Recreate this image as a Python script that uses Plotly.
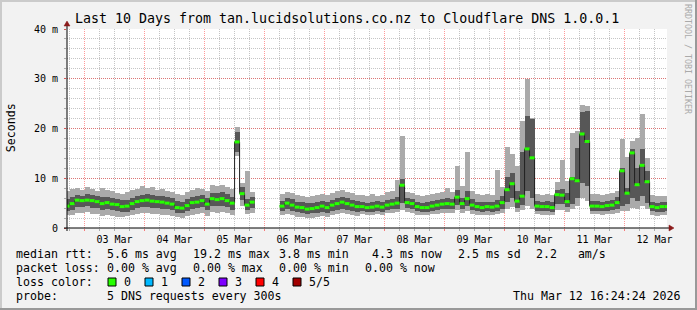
import pandas as pd
import plotly.graph_objects as go

N = None
# ---- data: 2-hour bins starting 2026-03-02 16:00 (ms) ----
median_ms = [4.4, 4.9, 5.6, 5.5, 5.6, 5.5, 5.3, 4.9, 5.1, 4.8,
             4.7, 4.3, 4.4, 4.9, 5.3, 5.5, 5.6, 5.4, 5.3, 5.2,
             5.0, 4.8, 4.1, 4.0, 4.5, 5.1, 5.2, 5.5, 4.8, 5.9,
             5.7, 5.9, 5.5, 5.0, 17.3, 6.9, 4.6, 5.2, N, N,
             N, N, N, 4.4, 5.0, 4.6, 4.2, 4.1, 3.8, 3.9,
             4.1, 4.4, 4.1, 4.6, 4.9, 5.2, 4.9, 4.6, 4.3, 4.3,
             4.1, 4.2, 4.4, 4.2, 4.6, 4.8, 5.0, 8.6, 5.1, 4.9,
             4.3, 4.1, 4.1, 4.4, 4.6, 4.8, 4.9, 4.8, 6.2, 4.9,
             5.9, 4.6, 4.3, 4.1, 4.3, 4.2, 4.4, 5.1, 7.7, 8.9,
             5.4, 6.4, 15.9, 14.1, 4.4, 4.3, 4.3, 4.1, 6.7, 6.6,
             5.3, 9.9, 9.5, 18.9, 17.4, 4.4, 4.4, 4.3, 4.5, 4.6,
             5.1, 11.5, 7.0, 15.1, 8.7, 12.6, 9.3, 4.3, 4.1, 4.3,
             4.3]
inner_lo_ms = [3.4, 3.7, 4.2, 4.3, 4.4, 4.1, 4.0, 3.7, 3.8, 3.6,
               3.5, 3.2, 3.3, 3.7, 4.0, 4.2, 4.3, 4.1, 4.0, 3.9,
               3.8, 3.6, 3.1, 3.0, 3.4, 3.9, 4.0, 4.2, 3.6, 4.5,
               4.4, 4.5, 4.2, 3.6, 15.2, 5.6, 3.6, 4.0, N, N,
               N, N, N, 3.4, 3.8, 3.5, 3.2, 3.1, 2.9, 3.0,
               3.1, 3.3, 3.1, 3.5, 3.7, 3.9, 3.7, 3.5, 3.3, 3.4,
               3.3, 3.3, 3.5, 3.3, 3.6, 3.8, 3.9, 5.0, 4.0, 3.9,
               3.4, 3.2, 3.3, 3.5, 3.6, 3.8, 3.9, 3.8, 4.6, 3.8,
               4.5, 3.6, 3.4, 3.3, 3.4, 3.3, 3.5, 3.9, 5.2, 6.0,
               4.0, 4.6, 7.5, 6.0, 3.5, 3.4, 3.4, 3.3, 4.8, 4.9,
               4.2, 4.8, 6.0, 9.0, 8.5, 3.5, 3.5, 3.4, 3.5, 3.6,
               3.9, 4.5, 4.8, 6.0, 5.5, 6.5, 5.0, 3.4, 3.2, 3.3,
               3.4]
inner_hi_ms = [5.8, 6.2, 6.6, 6.5, 6.8, 6.6, 6.4, 6.2, 6.3, 6.0,
               5.9, 5.6, 5.7, 6.1, 6.5, 6.7, 6.8, 6.6, 6.5, 6.4,
               6.2, 6.0, 5.4, 5.3, 5.8, 6.3, 6.5, 6.7, 6.1, 7.1,
               7.0, 7.2, 6.8, 6.3, 19.3, 8.2, 5.8, 6.2, N, N,
               N, N, N, 5.5, 6.1, 5.8, 5.3, 5.2, 5.0, 5.0,
               5.2, 5.5, 5.3, 5.7, 6.0, 6.3, 6.0, 5.7, 5.4, 5.3,
               5.1, 5.2, 5.4, 5.2, 5.6, 5.9, 6.3, 9.9, 6.1, 5.9,
               5.3, 5.1, 5.2, 5.4, 5.6, 5.8, 6.0, 5.9, 7.6, 6.0,
               7.4, 5.8, 5.3, 5.2, 5.3, 5.2, 5.6, 6.4, 10.3, 11.0,
               7.5, 15.3, 22.6, 21.9, 5.5, 5.3, 5.4, 5.2, 7.6, 7.8,
               7.0, 10.3, 16.0, 23.3, 23.6, 5.5, 5.4, 5.3, 5.5, 5.6,
               6.2, 12.0, 8.0, 15.9, 12.0, 15.9, 11.5, 5.3, 5.1, 5.2,
               5.3]
outer_lo_ms = [2.6, 2.7, 3.0, 3.1, 3.2, 2.9, 2.8, 2.5, 2.6, 2.4,
               2.3, 2.2, 2.4, 2.6, 2.9, 3.0, 3.1, 2.9, 2.8, 2.7,
               2.6, 2.5, 2.2, 2.1, 2.4, 2.7, 2.8, 3.0, 2.5, 3.2,
               3.1, 3.3, 3.0, 2.6, 14.5, 4.4, 2.8, 3.0, N, N,
               N, N, N, 2.6, 2.8, 2.6, 2.3, 2.2, 2.1, 2.1,
               2.3, 2.5, 2.3, 2.6, 2.8, 3.0, 2.8, 2.6, 2.4, 2.8,
               2.7, 2.7, 2.9, 2.7, 3.0, 3.1, 3.2, 3.6, 3.2, 3.1,
               2.7, 2.6, 2.6, 2.8, 2.9, 3.1, 3.1, 3.0, 3.6, 3.0,
               3.5, 2.9, 2.7, 2.6, 2.7, 2.6, 2.8, 3.1, 3.8, 4.2,
               3.2, 3.6, 4.5, 3.8, 2.8, 2.7, 2.7, 2.6, 3.6, 3.7,
               3.3, 3.8, 4.5, 6.0, 5.5, 2.8, 2.8, 2.7, 2.8, 2.9,
               3.1, 3.4, 3.5, 4.0, 3.8, 4.5, 3.8, 2.7, 2.5, 2.6,
               2.7]
outer_hi_ms = [7.4, 7.8, 8.0, 7.6, 8.2, 7.9, 7.5, 8.0, 7.7, 7.4,
               7.1, 6.8, 7.3, 7.6, 7.9, 8.4, 8.0, 8.3, 7.6, 7.8,
               7.4, 7.2, 6.9, 6.6, 7.3, 7.7, 8.1, 7.9, 7.5, 8.6,
               8.4, 8.7, 8.2, 7.9, 20.4, 9.0, 11.4, 7.2, N, N,
               N, N, N, 6.8, 7.2, 7.0, 6.6, 6.5, 6.2, 6.4,
               6.6, 6.9, 6.7, 7.0, 7.4, 7.6, 7.3, 7.1, 6.6, 6.6,
               6.4, 6.9, 6.5, 6.6, 7.2, 7.4, 9.6, 18.4, 7.2, 7.0,
               6.6, 6.4, 6.7, 6.8, 7.0, 7.2, 8.0, 7.3, 12.4, 8.5,
               15.3, 7.4, 6.8, 6.6, 6.9, 6.7, 11.7, 8.2, 16.3, 14.8,
               12.5, 21.6, 30.0, 22.2, 6.8, 6.6, 6.9, 6.7, 9.2, 13.6,
               9.5, 19.0, 19.4, 24.7, 24.6, 6.9, 6.8, 6.7, 6.9, 7.0,
               7.4, 17.9, 14.3, 17.5, 18.0, 22.9, 14.0, 6.6, 6.4, 6.5,
               6.4]

y_tick_vals = [0, 10, 20, 30, 40]
y_tick_text = ["0", "10 m", "20 m", "30 m", "40 m"]

title_text = "Last 10 Days from tan.lucidsolutions.co.nz to Cloudflare DNS 1.0.0.1"
rtt_items = ["5.6 ms avg", "19.2 ms max", "3.8 ms min", "4.3 ms now", "2.5 ms sd", "2.2   am/s"]
loss_items = ["0.00 % avg", "0.00 % max", "0.00 % min", "0.00 % now"]
loss_labels = ["0", "1", "2", "3", "4", "5/5"]
loss_colors = ["#26ff00", "#00b8ff", "#0059ff", "#7e00ff", "#ff0000", "#a10000"]
probe_text = "5 DNS requests every 300s"
stamp_text = "Thu Mar 12 16:24:24 2026"

# ---- layout geometry ----
W, H = 697, 310
PL, PR, PT, PB = 67, 667, 29, 228
def px(x):
    return (x - PL) / (PR - PL)
def py(y):
    return (PB - y) / (PB - PT)

BIN = pd.Timedelta(hours=2)
bin_start = pd.date_range("2026-03-02 16:00", periods=len(median_ms), freq="2h")
BIN_MS = 2 * 3600 * 1000

def band(lo, hi):
    return [None if (a is None or b is None) else round(b - a, 3) for a, b in zip(lo, hi)]

fig = go.Figure()
fig.add_trace(go.Bar(x=bin_start, base=outer_lo_ms, y=band(outer_lo_ms, outer_hi_ms),
                     width=BIN_MS, offset=0, marker=dict(color="#aaaaaa", line=dict(width=0)),
                     hoverinfo="skip", showlegend=False))
fig.add_trace(go.Bar(x=bin_start, base=inner_lo_ms, y=band(inner_lo_ms, inner_hi_ms),
                     width=BIN_MS, offset=0, marker=dict(color="#575757", line=dict(width=0)),
                     hoverinfo="skip", showlegend=False))

# median line (dark)
lx = list(bin_start) + [bin_start[-1] + BIN]
ly = list(median_ms) + [median_ms[-1]]
fig.add_trace(go.Scatter(x=lx, y=ly, mode="lines", line=dict(color="#202020", width=1, shape="hv"),
                         connectgaps=False, hoverinfo="skip", showlegend=False))
# loss-coloured median blobs
gx, gy = [], []
for t, m in zip(bin_start, median_ms):
    if m is None:
        continue
    gx += [t, t + BIN, None]
    gy += [m, m, None]
fig.add_trace(go.Scatter(x=gx, y=gy, mode="lines", line=dict(color=loss_colors[0], width=3),
                         hoverinfo="skip", showlegend=False))

MONO = "DejaVu Sans Mono"
grid_major = "rgba(255,0,0,0.40)"
grid_minor = "rgba(150,150,150,0.55)"

fig.update_layout(
    width=W, height=H,
    margin=dict(l=PL, r=W - PR, t=PT, b=H - PB, pad=0),
    paper_bgcolor="#f2f2f2", plot_bgcolor="#ffffff",
    barmode="overlay", bargap=0,
    showlegend=False,
    font=dict(family=MONO, size=10, color="#000000"),
    xaxis=dict(type="date", range=["2026-03-02 16:58:00", "2026-03-12 16:58:00"],
               tick0="2026-03-03", dtick=86400000, tickformat="%d %b", ticklabelmode="period",
               showgrid=True, gridcolor=grid_major, griddash="1px,1px", gridwidth=1,
               ticks="outside", ticklen=2, tickcolor="rgba(255,0,0,0.5)",
               showline=False, zeroline=False,
               tickfont=dict(family=MONO, size=10), ticklabelstandoff=0,
               minor=dict(dtick=21600000, showgrid=True, gridcolor=grid_minor,
                          griddash="1px,1px", gridwidth=1,
                          ticks="outside", ticklen=2, tickcolor="#aaaaaa")),
    yaxis=dict(range=[0, 40], tickmode="array", tickvals=y_tick_vals, ticktext=y_tick_text,
               showgrid=True, gridcolor=grid_major, griddash="1px,1px", gridwidth=1,
               ticks="outside", ticklen=2, tickcolor="rgba(255,0,0,0.5)",
               showline=False, zeroline=False,
               tickfont=dict(family=MONO, size=10), ticklabelstandoff=4,
               minor=dict(dtick=2, showgrid=True, gridcolor=grid_minor,
                          griddash="1px,1px", gridwidth=1,
                          ticks="outside", ticklen=2, tickcolor="#aaaaaa")),
)

shapes = []
# frame
shapes.append(dict(type="rect", xref="paper", yref="paper", x0=px(0), x1=px(2), y0=py(H), y1=py(0),
                   fillcolor="#cbcbcb", line=dict(width=0), layer="above"))
shapes.append(dict(type="rect", xref="paper", yref="paper", x0=px(0), x1=px(W), y0=py(2), y1=py(0),
                   fillcolor="#cbcbcb", line=dict(width=0), layer="above"))
shapes.append(dict(type="rect", xref="paper", yref="paper", x0=px(W - 2), x1=px(W), y0=py(H), y1=py(0),
                   fillcolor="#999999", line=dict(width=0), layer="above"))
shapes.append(dict(type="rect", xref="paper", yref="paper", x0=px(0), x1=px(W), y0=py(H), y1=py(H - 2),
                   fillcolor="#999999", line=dict(width=0), layer="above"))
# axes
shapes.append(dict(type="line", xref="paper", yref="paper", x0=px(64), x1=px(670), y0=py(228), y1=py(228),
                   line=dict(color="#000000", width=1), layer="above"))
shapes.append(dict(type="line", xref="paper", yref="paper", x0=px(67), x1=px(67), y0=py(231), y1=py(25),
                   line=dict(color="#000000", width=1), layer="above"))
# arrows
shapes.append(dict(type="path", xref="paper", yref="paper",
                   path=f"M {px(669)} {py(225)} L {px(674)} {py(228)} L {px(669)} {py(231)} Z",
                   fillcolor="#8b1a1a", line=dict(color="#8b1a1a", width=0.5), layer="above"))
shapes.append(dict(type="path", xref="paper", yref="paper",
                   path=f"M {px(64)} {py(26)} L {px(67)} {py(21)} L {px(70)} {py(26)} Z",
                   fillcolor="#8b1a1a", line=dict(color="#8b1a1a", width=0.5), layer="above"))
# loss colour boxes
box_x = [108, 145, 182, 219, 256, 293]
for bx, c in zip(box_x, loss_colors):
    shapes.append(dict(type="rect", xref="paper", yref="paper", x0=px(bx), x1=px(bx + 8),
                       y0=py(286), y1=py(278), fillcolor=c, line=dict(color="#000000", width=1),
                       layer="above"))
fig.update_layout(shapes=shapes)

LF = dict(family=MONO, size=11.6, color="#000000")
def note(x, y, text, font=LF, xanchor="left", angle=0):
    fig.add_annotation(xref="paper", yref="paper", x=px(x), y=py(y), text=text, showarrow=False,
                       xanchor=xanchor, yanchor="middle", font=font, textangle=angle,
                       borderpad=0, borderwidth=0)

note(347.3, 18.5, title_text, font=dict(family=MONO, size=13.3, color="#000000"), xanchor="center")
note(10.7, 127.5, "Seconds", font=dict(family=MONO, size=11.6, color="#000000"), xanchor="center", angle=-90)
note(688, 59, "RRDTOOL / TOBI OETIKER", font=dict(family=MONO, size=8.3, color="#aaaaaa"),
     xanchor="center", angle=90)

row1_x = [107.3, 193.3, 279.3, 372.7, 458.3, 536.7]
note(16, 254.3, "median rtt:")
for x, t in zip(row1_x, rtt_items):
    note(x - 0.5, 254.3, t)
row2_x = [107.3, 193.3, 279.3, 365.3]
note(16, 268.3, "packet loss:")
for x, t in zip(row2_x, loss_items):
    note(x - 0.5, 268.3, t)
note(16, 282.3, "loss color:")
for bx, lab in zip(box_x, loss_labels):
    note(bx + 15.5, 282.3, lab)
note(16, 296, "probe:")
note(106.8, 296, probe_text)
note(680.5, 296, stamp_text, xanchor="right")

fig.write_html("out.html")
